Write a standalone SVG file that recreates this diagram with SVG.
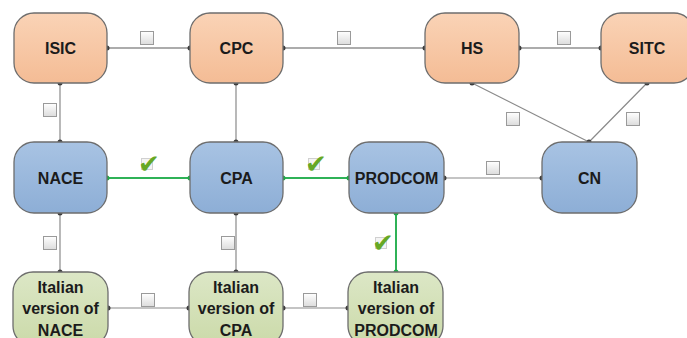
<svg xmlns="http://www.w3.org/2000/svg" width="687" height="338" viewBox="0 0 687 338">
<defs>
<linearGradient id="gO" x1="0" y1="0" x2="0" y2="1"><stop offset="0" stop-color="#fad3b6"/><stop offset="1" stop-color="#f4bc95"/></linearGradient>
<linearGradient id="gB" x1="0" y1="0" x2="0" y2="1"><stop offset="0" stop-color="#a8c3e3"/><stop offset="1" stop-color="#8daed6"/></linearGradient>
<linearGradient id="gG" x1="0" y1="0" x2="0" y2="1"><stop offset="0" stop-color="#dce7c6"/><stop offset="1" stop-color="#cbdaa9"/></linearGradient>
<linearGradient id="gC" x1="0" y1="0" x2="0" y2="1"><stop offset="0" stop-color="#ffffff"/><stop offset="1" stop-color="#dcdcdc"/></linearGradient>
</defs>
<style>
.n{stroke:#6d6d6d;stroke-width:1.3}
.o{fill:url(#gO)}.b{fill:url(#gB)}.g{fill:url(#gG)}
.t{font-family:"Liberation Sans",Arial,sans-serif;font-weight:bold;font-size:16px;fill:#1b1b1b;text-anchor:middle}
.c{fill:none;stroke:#5a5a5a;stroke-width:1.2}
.cl{fill:none;stroke:#8a8a8a;stroke-width:1.2}
.cg{fill:none;stroke:#2fb257;stroke-width:2}
.d{fill:#3c3c3c}.dg{fill:#22a84a}
.box{fill:url(#gC);stroke:#9a9a9a;stroke-width:1}
.fb{fill:#f4f4f4;stroke:#d0d0d0;stroke-width:1}
.chk{font-family:"DejaVu Sans",sans-serif;font-size:26px;fill:#66a825;text-anchor:middle}
</style>
<rect width="687" height="338" fill="#ffffff"/>
<g id="connectors">
<path class="c" d="M107,48H190M283,48H425M519,48H601"/>
<path class="cl" d="M60,83V142M236,83V142M472,83L589,142M647,83L589,142M444,178H542M60,213V272M236,213V272M108,308H189M283,308H348"/>
<path class="cg" d="M107,178H190M283,178H349M396,213V272"/>
<g class="d">
<circle cx="107" cy="48" r="2.5"/><circle cx="190" cy="48" r="2.5"/><circle cx="283" cy="48" r="2.5"/><circle cx="425" cy="48" r="2.5"/><circle cx="519" cy="48" r="2.5"/><circle cx="601" cy="48" r="2.5"/>
<circle cx="60" cy="83" r="2.5"/><circle cx="60" cy="142" r="2.5"/><circle cx="236" cy="83" r="2.5"/><circle cx="236" cy="142" r="2.5"/>
<circle cx="472" cy="83" r="2.5"/><circle cx="647" cy="83" r="2.5"/><circle cx="589" cy="142" r="2.5"/>
<circle cx="444" cy="178" r="2.5"/><circle cx="542" cy="178" r="2.5"/>
<circle cx="60" cy="213" r="2.5"/><circle cx="60" cy="272" r="2.5"/><circle cx="236" cy="213" r="2.5"/><circle cx="236" cy="272" r="2.5"/>
<circle cx="108" cy="308" r="2.5"/><circle cx="189" cy="308" r="2.5"/><circle cx="283" cy="308" r="2.5"/><circle cx="348" cy="308" r="2.5"/>
</g>
<g class="dg">
<circle cx="107" cy="178" r="2.5"/><circle cx="190" cy="178" r="2.5"/><circle cx="283" cy="178" r="2.5"/><circle cx="349" cy="178" r="2.5"/><circle cx="396" cy="213" r="2.5"/><circle cx="396" cy="272" r="2.5"/>
</g>
<g id="labels">
<rect class="box" x="140.5" y="31.5" width="13" height="13"/>
<rect class="box" x="337.5" y="31.5" width="13" height="13"/>
<rect class="box" x="557.5" y="31.5" width="13" height="13"/>
<rect class="box" x="43.5" y="103.5" width="13" height="13"/>
<rect class="box" x="506.5" y="112.5" width="13" height="13"/>
<rect class="box" x="626.5" y="112.5" width="13" height="13"/>
<rect class="box" x="486.5" y="161.5" width="13" height="13"/>
<rect class="box" x="43.5" y="236.5" width="13" height="13"/>
<rect class="box" x="221.5" y="236.5" width="13" height="13"/>
<rect class="box" x="141.5" y="293.5" width="13" height="13"/>
<rect class="box" x="303.5" y="293.5" width="13" height="13"/>
<rect class="fb" x="141.5" y="158.5" width="11" height="11"/>
<rect class="fb" x="308.5" y="158.5" width="11" height="11"/>
<rect class="fb" x="375.5" y="237.5" width="11" height="11"/>
<text class="chk" x="149" y="173">✔</text>
<text class="chk" x="316" y="173">✔</text>
<text class="chk" x="383" y="252">✔</text>
</g>
</g>
<g id="ISIC"><rect class="n o" x="14" y="13" width="93" height="70" rx="20"/><text class="t" x="60.5" y="54">ISIC</text></g>
<g id="CPC"><rect class="n o" x="190" y="13" width="93" height="70" rx="20"/><text class="t" x="236.5" y="54">CPC</text></g>
<g id="HS"><rect class="n o" x="425" y="13" width="94" height="70" rx="20"/><text class="t" x="472" y="54">HS</text></g>
<g id="SITC"><rect class="n o" x="601" y="13" width="93" height="70" rx="20"/><text class="t" x="647" y="54">SITC</text></g>
<g id="NACE"><rect class="n b" x="14" y="142" width="93" height="71" rx="20"/><text class="t" x="60.5" y="184">NACE</text></g>
<g id="CPA"><rect class="n b" x="190" y="142" width="93" height="71" rx="20"/><text class="t" x="236.5" y="184">CPA</text></g>
<g id="PRODCOM"><rect class="n b" x="349" y="142" width="95" height="71" rx="20"/><text class="t" x="396.5" y="184">PRODCOM</text></g>
<g id="CN"><rect class="n b" x="542" y="142" width="95" height="71" rx="20"/><text class="t" x="589.5" y="184">CN</text></g>
<g id="IT_NACE"><rect class="n g" x="13" y="272" width="95" height="74" rx="20"/><text class="t" x="60.5" y="293">Italian</text><text class="t" x="60.5" y="314">version of</text><text class="t" x="60.5" y="336">NACE</text></g>
<g id="IT_CPA"><rect class="n g" x="189" y="272" width="94" height="74" rx="20"/><text class="t" x="236" y="293">Italian</text><text class="t" x="236" y="314">version of</text><text class="t" x="236" y="336">CPA</text></g>
<g id="IT_PRODCOM"><rect class="n g" x="348" y="272" width="95" height="74" rx="20"/><text class="t" x="396" y="293">Italian</text><text class="t" x="396" y="314">version of</text><text class="t" x="396" y="336">PRODCOM</text></g>
</svg>
